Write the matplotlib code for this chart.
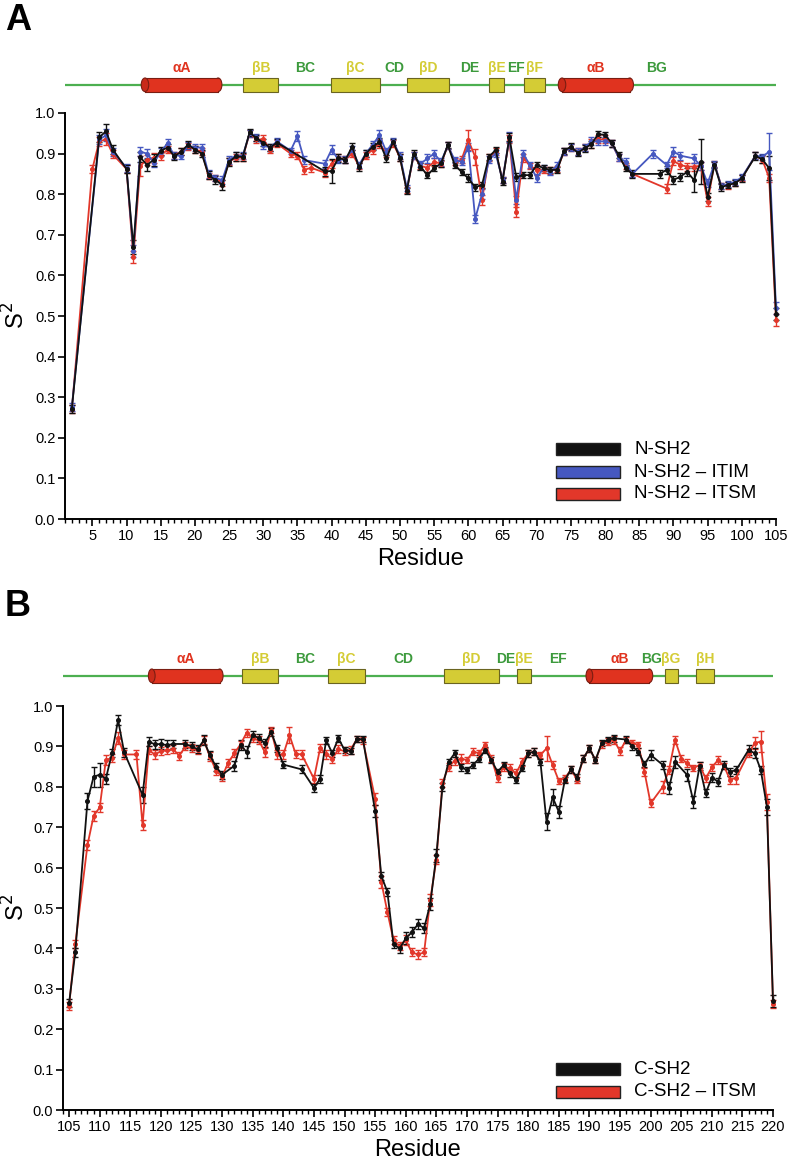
import matplotlib
matplotlib.use("Agg")
import matplotlib.pyplot as plt
from matplotlib.patches import Rectangle, Ellipse
from matplotlib.ticker import MultipleLocator, FormatStrFormatter

plt.rcParams['font.family'] = ['Liberation Sans', 'DejaVu Sans']

# ---------------- panel A : N-SH2 ----------------
a_black_res = [2, 6, 7, 8, 10, 11,
               12, 13, 14, 15, 16, 17, 18, 19, 20, 21, 22, 23, 24, 25, 26, 27, 28, 29, 30, 31, 32,
               39, 40, 41, 42, 43, 44, 45, 46, 47, 48, 49, 50, 51, 52, 53, 54, 55, 56, 57, 58,
               59, 60, 61, 62, 63, 64, 65, 66, 67, 68, 69, 70, 71, 72, 73, 74, 75, 76, 77, 78,
               79, 80, 81, 82, 83, 84,
               88, 89, 90, 91, 92, 93, 94, 95, 96, 97, 98, 99, 100,
               102, 103, 104, 105]
a_black_val = [.272, .940, .955, .910, .862, .670,
               .891, .872, .885, .907, .915, .893, .905, .922, .910, .900, .847, .835, .823, .880, .893, .892, .952, .938, .927, .915, .927,
               .856, .857, .890, .884, .917, .866, .900, .917, .928, .888,
               .929, .890, .808, .900, .868, .847, .864, .876, .921, .872,
               .855, .839, .817, .823, .892, .909, .831, .940, .842, .847,
               .847, .872, .864, .860, .860, .907, .917, .902, .913, .923,
               .948, .946, .925, .896, .864, .850,
               .850, .860, .835, .843, .855, .835, .880, .794, .872, .817, .823, .827, .839,
               .894, .886, .864, .505]
a_black_err = [.010, .012, .018, .010, .010, .018,
               .012, .015, .015, .010, .008, .008, .008, .008, .008, .008, .010, .010, .012, .010, .010, .010, .008, .008, .008, .008, .008,
               .012, .030, .010, .008, .008, .010, .008, .008, .010, .008,
               .008, .008, .008, .008, .008, .008, .008, .008, .008, .008,
               .008, .010, .008, .008, .008, .008, .008, .010, .010, .008,
               .008, .008, .008, .008, .008, .008, .008, .008, .008, .008,
               .008, .008, .008, .008, .008, .010,
               .010, .010, .010, .010, .010, .030, .055, .010, .008, .008, .008, .008, .008,
               .010, .010, .030, .015]

a_blue_res = [2, 6, 7, 8, 10, 11,
              12, 13, 14, 15, 16, 17, 18, 19, 20, 21, 22, 23, 24, 25, 26, 27, 28, 29, 30, 31, 32,
              34, 35, 36,
              39, 40, 41, 42, 43, 44, 45, 46, 47, 48, 49, 50, 51, 52, 53, 54, 55, 56, 57, 58,
              59, 60, 61, 62, 63, 64, 65, 66, 67, 68, 69, 70, 71, 72, 73, 74, 75, 76, 77, 78,
              79, 80, 81, 82, 83, 84,
              87, 89, 90, 91,
              93, 94, 95, 96, 97, 98, 99, 100,
              102, 103, 104, 105]
a_blue_val = [.275, .935, .945, .905, .865, .660,
              .905, .900, .878, .905, .925, .895, .895, .920, .915, .915, .850, .840, .835, .885, .895, .895, .950, .940, .920, .915, .930,
              .907, .943, .884,
              .875, .910, .885, .885, .910, .872, .900, .922, .945, .905,
              .930, .895, .815, .895, .875, .888, .900, .880, .920, .884,
              .880, .917, .740, .800, .885, .900, .835, .940, .786, .900,
              .872, .840, .865, .855, .870, .905, .915, .905, .915, .930,
              .930, .930, .925, .890, .880, .850,
              .900, .872, .905, .895,
              .888, .870, .827, .875, .820, .825, .830, .842,
              .895, .892, .905, .520]
a_blue_err = [.010, .012, .015, .010, .010, .015,
              .012, .012, .012, .010, .010, .008, .008, .008, .008, .008, .010, .008, .010, .010, .008, .008, .008, .008, .008, .008, .008,
              .008, .012, .010,
              .010, .010, .008, .008, .008, .008, .008, .010, .012, .008,
              .008, .008, .008, .008, .008, .010, .010, .010, .008, .008,
              .008, .010, .010, .012, .008, .008, .008, .012, .010, .008,
              .008, .010, .008, .008, .010, .008, .008, .008, .008, .010,
              .010, .010, .008, .008, .010, .008,
              .010, .008, .012, .010,
              .010, .010, .010, .008, .008, .008, .008, .008,
              .008, .008, .045, .015]

a_red_res = [2, 5, 6, 7, 8, 10, 11,
             12, 13, 14, 15, 16, 17, 18, 19, 20, 21, 22, 23, 24, 25, 26, 27, 28, 29, 30, 31, 32,
             34, 35, 36, 37,
             39, 40, 41, 42, 43, 44, 45, 46, 47, 48, 49, 50, 51, 52, 53, 54, 55, 56, 57, 58,
             59, 60, 61, 62, 63, 64, 65, 66, 67, 68, 69, 70, 71, 72, 73, 74, 75, 76, 77, 78,
             79, 80, 81, 82, 83, 84,
             89, 90, 91, 92, 93, 94, 95, 96, 97, 98, 99, 100,
             102, 103, 104, 105]
a_red_val = [.270, .862, .930, .935, .898, .862, .645,
             .870, .885, .890, .895, .910, .895, .905, .918, .910, .905, .845, .840, .828, .880, .890, .890, .950, .935, .935, .910, .925,
             .900, .895, .860, .865,
             .853, .875, .890, .885, .900, .870, .895, .910, .925, .900,
             .925, .890, .810, .895, .870, .865, .880, .875, .920, .880,
             .885, .933, .892, .786, .890, .905, .835, .935, .757, .890,
             .870, .860, .860, .858, .862, .905, .915, .905, .915, .925,
             .935, .935, .925, .890, .870, .850,
             .814, .882, .872, .868, .868, .870, .782, .875, .820, .822, .828, .840,
             .895, .885, .840, .490]
a_red_err = [.010, .010, .012, .015, .010, .010, .015,
             .025, .012, .012, .010, .008, .008, .008, .008, .008, .008, .008, .008, .008, .008, .008, .008, .008, .008, .010, .008, .008,
             .008, .008, .010, .010,
             .010, .010, .008, .008, .008, .008, .008, .010, .012, .008,
             .008, .008, .008, .008, .008, .010, .010, .008, .008, .008,
             .008, .025, .020, .012, .008, .008, .008, .010, .012, .010,
             .008, .012, .008, .008, .008, .008, .008, .008, .008, .010,
             .010, .010, .008, .008, .008, .008,
             .010, .010, .010, .010, .010, .010, .010, .008, .008, .008, .008, .008,
             .008, .008, .010, .015]

# ---------------- panel B : C-SH2 ----------------
b_black_res = [105, 106,
               108, 109, 110, 111, 112, 113, 114,
               117, 118, 119, 120, 121, 122,
               124, 125, 126, 127, 128, 129, 130,
               132, 133, 134, 135, 136, 137, 138, 139, 140,
               143,
               145, 146, 147, 148, 149, 150, 151, 152, 153,
               155, 156, 157, 158, 159, 160, 161, 162, 163, 164,
               165, 166, 167, 168, 169, 170, 171, 172, 173, 174,
               175, 176, 177, 178, 179, 180, 181, 182, 183, 184,
               185, 186, 187, 188, 189, 190, 191, 192, 193, 194,
               196, 197, 198, 199, 200,
               202, 203, 204,
               206, 207, 208, 209, 210, 211, 212, 213, 214,
               216, 217, 218, 219, 220]
b_black_val = [.265, .390,
               .765, .825, .830, .820, .883, .965, .885,
               .780, .912, .905, .906, .903, .906,
               .906, .900, .893, .915, .878, .850, .830,
               .852, .904, .886, .928, .920, .908, .936, .895, .855,
               .843,
               .797, .820, .915, .883, .920, .891, .888, .918, .918,
               .740, .580, .540, .410, .400, .425, .440, .460, .450, .510,
               .630, .800, .862, .883, .848, .842, .854, .870, .891, .866,
               .837, .854, .833, .817, .846, .883, .887, .862, .714, .774,
               .738, .817, .843, .823, .870, .895, .866, .908, .916, .920,
               .917, .900, .887, .856, .879,
               .854, .796, .862,
               .829, .763, .851, .784, .823, .813, .854, .837, .842,
               .891, .883, .842, .751, .270]
b_black_err = [.010, .012,
               .020, .025, .030, .012, .010, .012, .010,
               .020, .012, .012, .012, .012, .010,
               .010, .010, .010, .012, .010, .010, .010,
               .012, .012, .015, .010, .010, .010, .010, .008, .008,
               .010,
               .010, .010, .008, .008, .008, .008, .008, .008, .008,
               .015, .010, .010, .010, .012, .015, .012, .012, .012, .015,
               .015, .010, .008, .008, .008, .008, .008, .008, .008, .008,
               .008, .008, .008, .008, .008, .008, .008, .008, .020, .020,
               .015, .008, .008, .008, .008, .008, .008, .008, .008, .008,
               .008, .008, .008, .008, .012,
               .010, .015, .015,
               .015, .015, .010, .010, .010, .010, .010, .010, .010,
               .012, .012, .010, .020, .015]

b_red_res = [105, 106,
             108, 109, 110, 111, 112, 113, 114,
             116, 117, 118, 119, 120, 121, 122, 123, 124, 125,
             126, 127, 128, 129, 130, 131, 132, 133, 134, 135,
             136, 137, 138, 139, 140, 141, 142, 143,
             145, 146, 147, 148, 149, 150, 151, 152, 153,
             155, 156, 157, 158, 159, 160, 161, 162, 163, 164,
             165, 166, 167, 168, 169, 170, 171, 172, 173, 174,
             175, 176, 177, 178, 179, 180, 181, 182, 183, 184,
             185, 186, 187, 188, 189, 190, 191, 192, 193, 194,
             195, 196, 197, 198, 199, 200,
             202, 203, 204, 205, 206, 207, 208, 209, 210, 211, 212, 213, 214,
             216, 217, 218, 219, 220]
b_red_val = [.258, .410,
             .656, .728, .749, .866, .872, .920, .880,
             .880, .705, .891, .880, .888, .890, .893, .877, .900, .895,
             .890, .915, .875, .840, .825, .860, .883, .905, .934, .920,
             .915, .885, .940, .880, .880, .928, .882, .880,
             .820, .895, .880, .870, .893, .888, .892, .918, .915,
             .770, .565, .490, .420, .405, .420, .390, .385, .390, .520,
             .620, .810, .850, .865, .870, .866, .887, .883, .904, .870,
             .821, .850, .846, .833, .862, .883, .887, .879, .895, .854,
             .815, .821, .843, .817, .870, .895, .866, .905, .912, .915,
             .889, .916, .908, .904, .837, .759,
             .800, .842, .916, .870, .858, .846, .854, .821, .848, .866, .851, .817, .823,
             .883, .908, .912, .763, .262]
b_red_err = [.010, .010,
             .012, .012, .012, .012, .010, .015, .010,
             .012, .012, .010, .010, .010, .010, .010, .010, .010, .010,
             .010, .010, .010, .010, .010, .010, .010, .008, .010, .010,
             .010, .010, .008, .010, .010, .020, .010, .010,
             .010, .010, .010, .010, .010, .010, .010, .008, .008,
             .015, .015, .010, .010, .010, .012, .010, .010, .010, .015,
             .010, .010, .010, .010, .010, .008, .008, .008, .008, .008,
             .010, .010, .010, .010, .010, .008, .008, .008, .030, .010,
             .008, .008, .008, .008, .008, .008, .008, .008, .008, .010,
             .010, .008, .008, .008, .010, .010,
             .015, .010, .010, .008, .010, .008, .008, .008, .008, .010, .008, .010, .015,
             .010, .015, .025, .020, .010]

# secondary structure (start, end) in residues, loop label positions
a_helix = [("αA", 12.7, 23.4), ("αB", 73.7, 83.6)]
a_strand = [("βB", 27.1, 32.2), ("βC", 39.9, 47.1), ("βD", 51.0, 57.2),
            ("βE", 63.0, 65.2), ("βF", 68.2, 71.2)]
a_loop = [("BC", 36.1), ("CD", 49.2), ("DE", 60.2), ("EF", 67.0), ("BG", 87.5)]

b_helix = [("αA", 118.5, 129.6), ("αB", 190.0, 199.8)]
b_strand = [("βB", 133.2, 139.1), ("βC", 147.3, 153.3), ("βD", 166.2, 175.3),
            ("βE", 178.1, 180.4), ("βG", 202.3, 204.4), ("βH", 207.4, 210.4)]
b_loop = [("BC", 143.5), ("CD", 159.6), ("DE", 176.4), ("EF", 184.9), ("BG", 200.1)]

BLACK = '#111111'
BLUE = '#4658c0'
RED = '#e2372a'
YEL = '#d4cc35'
GRN_LINE = '#4caf50'
GRN_TXT = '#3c9a3c'
HELIX = '#e0331f'

W, H = 787, 1165
fig = plt.figure(figsize=(W / 100, H / 100), dpi=100)


def px_box(l, t, r, b):
    return [l / W, 1 - b / H, (r - l) / W, (b - t) / H]


def draw_topology(ax, xlim, helices, strands, loops):
    ax.set_xlim(*xlim)
    ax.set_ylim(0, 1)
    ax.axis('off')
    yc, hh = 0.33, 0.34
    ax.plot(xlim, [yc, yc], color=GRN_LINE, lw=1.6, zorder=1)
    for name, x0, x1 in helices:
        ax.add_patch(Ellipse((x1, yc), 1.1, hh, fc=HELIX, ec='#7a1d12', lw=0.8, zorder=2))
        ax.add_patch(Rectangle((x0, yc - hh / 2), x1 - x0, hh, fc=HELIX, ec='none', zorder=3))
        ax.plot([x0, x1], [yc - hh / 2, yc - hh / 2], color='#7a1d12', lw=0.8, zorder=4)
        ax.plot([x0, x1], [yc + hh / 2, yc + hh / 2], color='#7a1d12', lw=0.8, zorder=4)
        ax.add_patch(Ellipse((x0, yc), 1.1, hh, fc='#c92a19', ec='#7a1d12', lw=0.8, zorder=5))
        ax.text((x0 + x1) / 2, 0.74, name, color=HELIX, fontsize=10, fontweight='bold',
                ha='center', va='center')
    for name, x0, x1 in strands:
        ax.add_patch(Rectangle((x0, yc - hh / 2), x1 - x0, hh, fc=YEL, ec='#6a6420', lw=0.8, zorder=3))
        ax.text((x0 + x1) / 2, 0.74, name, color=YEL, fontsize=10, fontweight='bold',
                ha='center', va='center')
    for name, x in loops:
        ax.text(x, 0.74, name, color=GRN_TXT, fontsize=10, fontweight='bold',
                ha='center', va='center')


def style_axes(ax, xlim, first_major, left_px):
    ax.set_xlim(*xlim)
    ax.set_ylim(0, 1.0)
    for s in ['top', 'right']:
        ax.spines[s].set_visible(False)
    for s in ['left', 'bottom']:
        ax.spines[s].set_linewidth(1.4)
    ax.yaxis.set_major_locator(MultipleLocator(0.1))
    ax.yaxis.set_major_formatter(FormatStrFormatter('%.1f'))
    ax.set_xticks(list(range(first_major, int(xlim[1]) + 1, 5)))
    ax.xaxis.set_minor_locator(MultipleLocator(1))
    ax.tick_params(axis='both', which='major', length=5, width=1.2, labelsize=10.5, pad=2)
    ax.tick_params(axis='x', which='minor', length=3, width=1.0)
    ax.set_xlabel('Residue', fontsize=17, labelpad=4)
    ax.set_ylabel('S$^2$', fontsize=17)
    ax.yaxis.set_label_coords((30 - left_px) / 711, 0.5)


def series(ax, res, val, err, color):
    ax.errorbar(res, val, yerr=err, color=color, lw=1.3, marker='o', ms=2.6,
                capsize=2.5, elinewidth=1.0, capthick=1.0, clip_on=False)


def legend(entries, rows):
    for (label, color), y in zip(entries, rows):
        fig.add_artist(Rectangle((556 / W, 1 - (y + 6) / H), 64 / W, 12 / H, fc=color,
                                 ec='#222222', lw=1.0, transform=fig.transFigure))
        fig.text(634 / W, 1 - y / H, label, fontsize=13.5, va='center', ha='left')


# panel A
topA = fig.add_axes(px_box(65, 58, 776, 98))
draw_topology(topA, (1, 105), a_helix, a_strand, a_loop)
axA = fig.add_axes(px_box(65, 113, 776, 519))
style_axes(axA, (1, 105), 5, 65)
series(axA, a_red_res, a_red_val, a_red_err, RED)
series(axA, a_blue_res, a_blue_val, a_blue_err, BLUE)
series(axA, a_black_res, a_black_val, a_black_err, BLACK)
legend([("N-SH2", BLACK), ("N-SH2 – ITIM", BLUE), ("N-SH2 – ITSM", RED)], [449, 472, 494])
fig.text(5 / W, 1 - 20 / H, 'A', fontsize=26, fontweight='bold', va='center', ha='left')

# panel B
topB = fig.add_axes(px_box(63, 649, 773, 689))
draw_topology(topB, (104, 220), b_helix, b_strand, b_loop)
axB = fig.add_axes(px_box(63, 706, 773, 1110))
style_axes(axB, (104, 220), 105, 63)
series(axB, b_red_res, b_red_val, b_red_err, RED)
series(axB, b_black_res, b_black_val, b_black_err, BLACK)
legend([("C-SH2", BLACK), ("C-SH2 – ITSM", RED)], [1069, 1092])
fig.text(5 / W, 1 - 607 / H, 'B', fontsize=26, fontweight='bold', va='center', ha='left')

fig.savefig('out.png', dpi=100)
